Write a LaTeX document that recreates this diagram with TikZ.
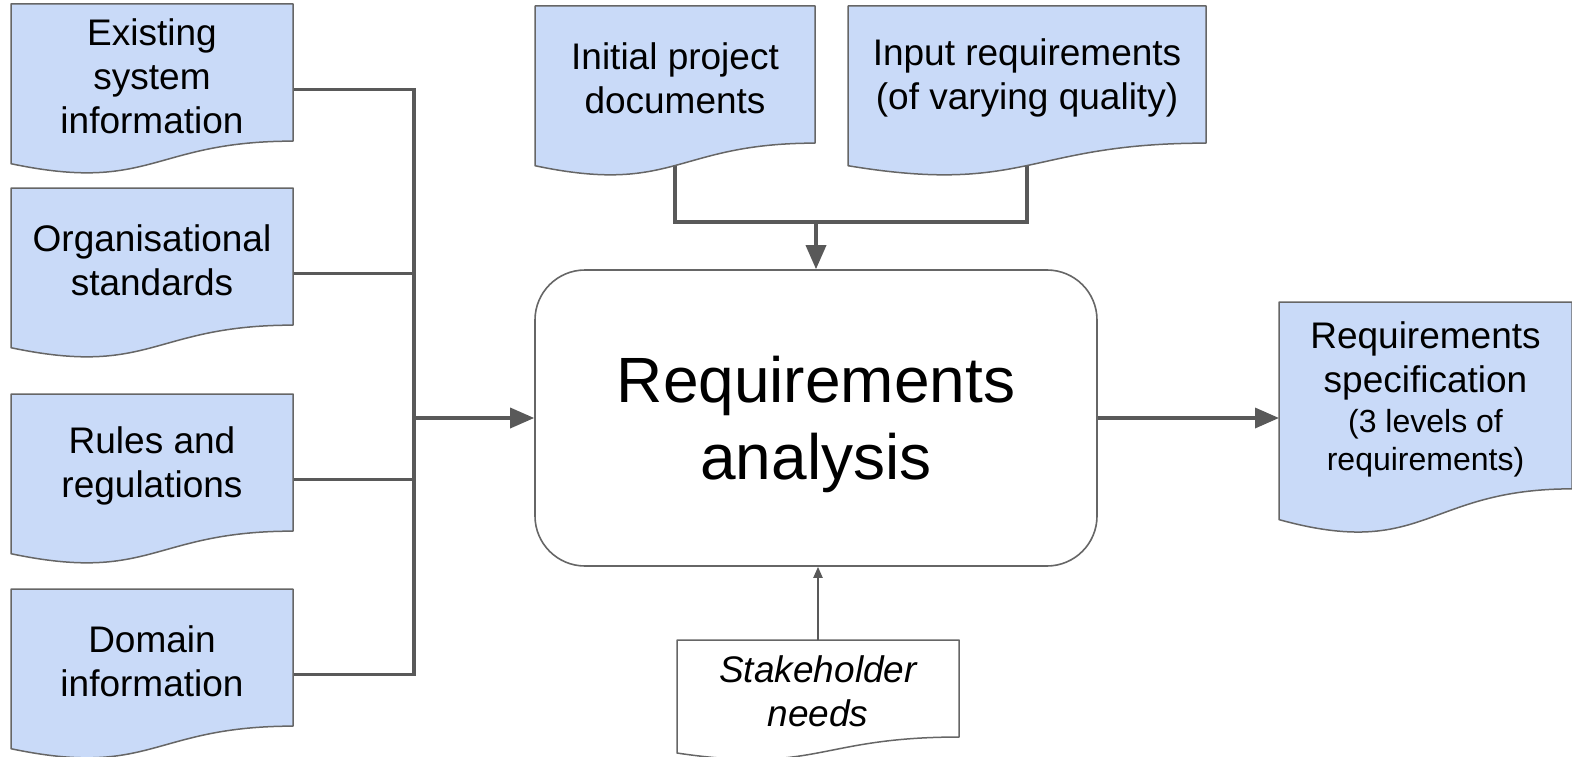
\documentclass[tikz,border=0pt]{standalone}
\usepackage{fontspec}
\setmainfont{Liberation Sans}
\usetikzlibrary{arrows.meta,calc}
\pgfdeclarelayer{background}
\pgfsetlayers{background,main}
\definecolor{docfill}{RGB}{201,218,248}
\definecolor{edgecol}{RGB}{102,102,102}
\definecolor{conncol}{RGB}{89,89,89}
\tikzset{
  docshape/.style={draw=edgecol, line width=1.5pt, fill=docfill, line join=round},
  docwhite/.style={draw=edgecol, line width=1.5pt, fill=white, line join=round},
  doctext/.style={align=center, inner sep=0pt, font=\fontsize{37}{44}\selectfont},
  mainbox/.style={draw=edgecol, line width=1.6pt, fill=white, rounded corners=50pt,
    minimum width=562pt, minimum height=296pt, align=center, inner sep=0pt,
    font=\fontsize{64}{77}\selectfont},
  conn/.style={draw=conncol, line width=3.5pt, line join=miter},
  arrowthick/.style={conn, -{Triangle[length=24pt,width=20pt]}},
  arrowthin/.style={draw=conncol, line width=2pt, -{Triangle[length=11pt,width=9pt]}}
}
% #1 name, #2 left x, #3 top y, #4 width, #5 height, #6 style, #7 text
\newcommand\docnode[7]{%
  \pgfmathsetmacro\dxr{#2+#4}%
  \pgfmathsetmacro\dyr{#3+0.802*#5}%
  \pgfmathsetmacro\dxm{#2+0.5*#4}%
  \pgfmathsetmacro\dyc{#3+1.1075*#5}%
  \pgfmathsetmacro\dyl{#3+0.934*#5}%
  \pgfmathsetmacro\dty{#3+0.42*#5}%
  \pgfmathsetmacro\dcy{#3+0.5*#5}%
  \pgfmathsetmacro\dby{#3+0.9*#5}%
  \draw[#6] (#2,#3) -- (\dxr,#3) -- (\dxr,\dyr)
     .. controls (\dxm,\dyr) and (\dxm,\dyc) .. (#2,\dyl) -- cycle;
  \node[doctext] (#1) at (\dxm,\dty) {#7};
  \coordinate (#1-top) at (\dxm,#3);
  \coordinate (#1-bot) at (\dxm,\dby);
  \coordinate (#1-right) at (\dxr,\dcy);
  \coordinate (#1-left) at (#2,\dcy);
}
\begin{document}
\begin{tikzpicture}[x=1pt,y=-1pt]
\useasboundingbox (0,0) rectangle (1572,757);
% left documents
\docnode{b1}{11}{4}{282}{171}{docshape}{Existing\\system\\information}
\docnode{b2}{11}{188}{282}{171}{docshape}{Organisational\\standards}
\docnode{b3}{11}{394}{282}{171}{docshape}{Rules and\\regulations}
\docnode{b4}{11}{589}{282}{171}{docshape}{Domain\\information}
% top documents
\docnode{t1}{535}{6}{280}{171}{docshape}{Initial project\\documents}
\docnode{t2}{848}{6}{358}{171}{docshape}{Input requirements\\(of varying quality)}
% output document
\docnode{spec}{1279}{302}{293}{233}{docshape}{Requirements\\specification\\[-4pt]{\fontsize{32}{38}\selectfont (3 levels of}\\[-6pt]{\fontsize{32}{38}\selectfont requirements)}}
% stakeholder needs
\docnode{sh}{677}{640}{282}{121}{docwhite}{\itshape Stakeholder\\\itshape needs}
% main process
\node[mainbox] (main) at (816,418) {\rule{0pt}{59pt}Requirements\\analysis};
\coordinate (bus) at (414,0);
\coordinate (tj) at (816,222);
\begin{pgfonlayer}{background}
  \draw[conn] (b1-right) -- (b1-right -| bus) -- (b4-right -| bus) -- (b4-right);
  \draw[conn] (b2-right) -- (b2-right -| bus);
  \draw[conn] (b3-right) -- (b3-right -| bus);
  \draw[conn] (t1-bot) -- (t1-bot |- tj) -- (t2-bot |- tj) -- (t2-bot);
\end{pgfonlayer}
\draw[arrowthick] (bus |- main.west) -- (main.west);
\draw[arrowthick] (tj) -- (main.north);
\draw[arrowthick] (main.east) -- (main.east -| spec-left);
\draw[arrowthin] (sh-top) -- (sh-top |- main.south);
\end{tikzpicture}
\end{document}
